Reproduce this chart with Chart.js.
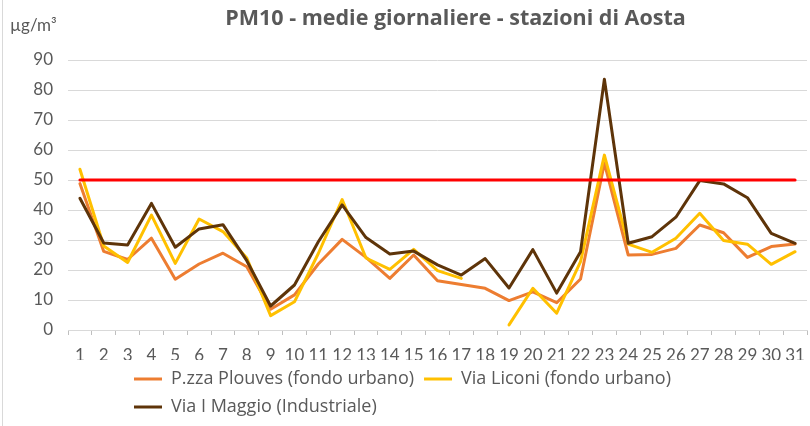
<!DOCTYPE html>
<html>
<head>
<meta charset="utf-8">
<script src="https://cdn.jsdelivr.net/npm/chart.js@4/dist/chart.umd.min.js"></script>
<style>
  html, body { margin: 0; padding: 0; background: #ffffff; overflow: hidden; }
  #wrap { position: relative; width: 810px; height: 426px; overflow: hidden; }
  #frame { position: absolute; left: 2px; top: 0; width: 1px; height: 426px; background: #d9d9d9; }
  canvas { position: absolute; left: 0; top: 0; }
</style>
</head>
<body>
<div id="wrap">
  <canvas id="c" width="815" height="426"></canvas>
  <div id="frame"></div>
</div>
<script>
const titleText = 'PM10 - medie giornaliere - stazioni di Aosta';
const unitText = 'µg/m³';
const days = ['1','2','3','4','5','6','7','8','9','10','11','12','13','14','15','16','17','18','19','20','21','22','23','24','25','26','27','28','29','30','31'];
const seriesNames = ['P.zza Plouves (fondo urbano)', 'Via Liconi (fondo urbano)', 'Via I Maggio (Industriale)'];
const plouves = [48.8, 26.2, 23.5, 30.6, 16.9, 22.0, 25.6, 21.1, 6.9, 11.7, 22.0, 30.2, 24.2, 17.2, 25.0, 16.4, 15.2, 13.9, 9.8, 12.7, 9.1, 17.0, 55.6, 25.0, 25.2, 27.2, 35.0, 32.4, 24.2, 27.8, 28.7];
const liconi = [53.6, 28.0, 22.5, 38.3, 22.2, 37.0, 32.8, 24.0, 4.8, 9.4, 25.5, 43.5, 24.0, 20.2, 26.9, 19.8, 17.2, null, 1.7, 13.9, 5.6, 22.8, 58.3, 28.6, 25.9, 30.6, 38.9, 29.8, 28.6, 21.9, 26.1];
const maggio = [43.9, 29.0, 28.3, 42.2, 27.6, 33.7, 35.1, 23.1, 8.0, 15.0, 29.4, 41.7, 30.8, 25.3, 26.3, 21.7, 18.3, 23.8, 14.0, 26.8, 12.3, 26.1, 83.6, 28.9, 31.1, 37.6, 49.8, 48.7, 44.1, 32.2, 28.9];
const limitValues = [50, 50, 50, 50, 50, 50, 50, 50, 50, 50, 50, 50, 50, 50, 50, 50, 50, 50, 50, 50, 50, 50, 50, 50, 50, 50, 50, 50, 50, 50, 50];
const yTicks = [0, 10, 20, 30, 40, 50, 60, 70, 80, 90];

const FONT = 'Lato, "Open Sans", sans-serif';
const WIDE = '"Open Sans", Lato, sans-serif';
const TEXT = '#595959';

const layoutTweaks = {
  id: 'layoutTweaks',
  afterInit(chart) {
    const lg = chart.legend;
    if (lg && !lg._wrapped) {
      const orig = lg.update.bind(lg);
      lg.update = (mw, mh, m) => orig(Math.min(mw, 700), mh, m);
      lg._wrapped = true;
    }
  },
  afterUpdate(chart) {
    if (chart.legend) { chart.legend.left = 124; chart.legend.adjustHitBoxes(); }
    if (chart.titleBlock) { chart.titleBlock.left = 99; }
  },
  afterDraw(chart) {
    const ctx = chart.ctx;
    ctx.save();
    ctx.font = '17px ' + FONT;
    ctx.fillStyle = TEXT;
    ctx.textAlign = 'left';
    ctx.textBaseline = 'middle';
    ctx.fillText(unitText, 10, 26);
    ctx.restore();
  }
};

function lineDs(label, data, color, order) {
  return {
    label, data, borderColor: color, backgroundColor: color,
    borderWidth: 3, pointRadius: 0, pointHoverRadius: 0, tension: 0,
    borderJoinStyle: 'round', borderCapStyle: 'round', spanGaps: false, order
  };
}

new Chart(document.getElementById('c'), {
  type: 'line',
  data: {
    labels: days,
    datasets: [
      lineDs(seriesNames[0], plouves, '#ED7D31', 4),
      lineDs(seriesNames[1], liconi, '#FFC000', 3),
      lineDs(seriesNames[2], maggio, '#5E3409', 2),
      lineDs('Limite', limitValues, '#FF0000', 1)
    ]
  },
  options: {
    responsive: false,
    devicePixelRatio: 1,
    animation: false,
    layout: { padding: { left: 0, right: 3, top: 0, bottom: 0 } },
    plugins: {
      tooltip: { enabled: false },
      title: {
        display: true, text: titleText, color: TEXT,
        font: { family: WIDE, size: 21.5, weight: 'bold', lineHeight: 1.2 },
        padding: { top: 6, bottom: 28.2 }
      },
      legend: {
        display: true, position: 'bottom', align: 'start',
        labels: {
          usePointStyle: true, pointStyle: 'line', pointStyleWidth: 28,
          color: TEXT, font: { family: WIDE, size: 18 }, padding: 10,
          filter: (item) => item.datasetIndex < 3,
          sort: (a, b) => a.datasetIndex - b.datasetIndex
        }
      }
    },
    scales: {
      x: {
        offset: true,
        grid: { offset: true, drawOnChartArea: false, drawTicks: true, tickLength: 5, color: '#bfbfbf' },
        border: { display: true, color: '#d9d9d9', width: 1 },
        ticks: { color: TEXT, font: { family: FONT, size: 17 }, padding: 10, maxRotation: 0, autoSkip: false },
        afterFit: (s) => { s.height = 30; }
      },
      y: {
        min: 0, max: 90,
        afterBuildTicks: (s) => { s.ticks = yTicks.map(v => ({ value: v })); },
        grid: { color: '#d9d9d9', lineWidth: 1, drawTicks: false },
        border: { display: false },
        ticks: { color: TEXT, font: { family: FONT, size: 17 }, padding: 15 },
        afterFit: (s) => { s.width = 68; }
      }
    }
  },
  plugins: [layoutTweaks]
});
</script>
</body>
</html>
